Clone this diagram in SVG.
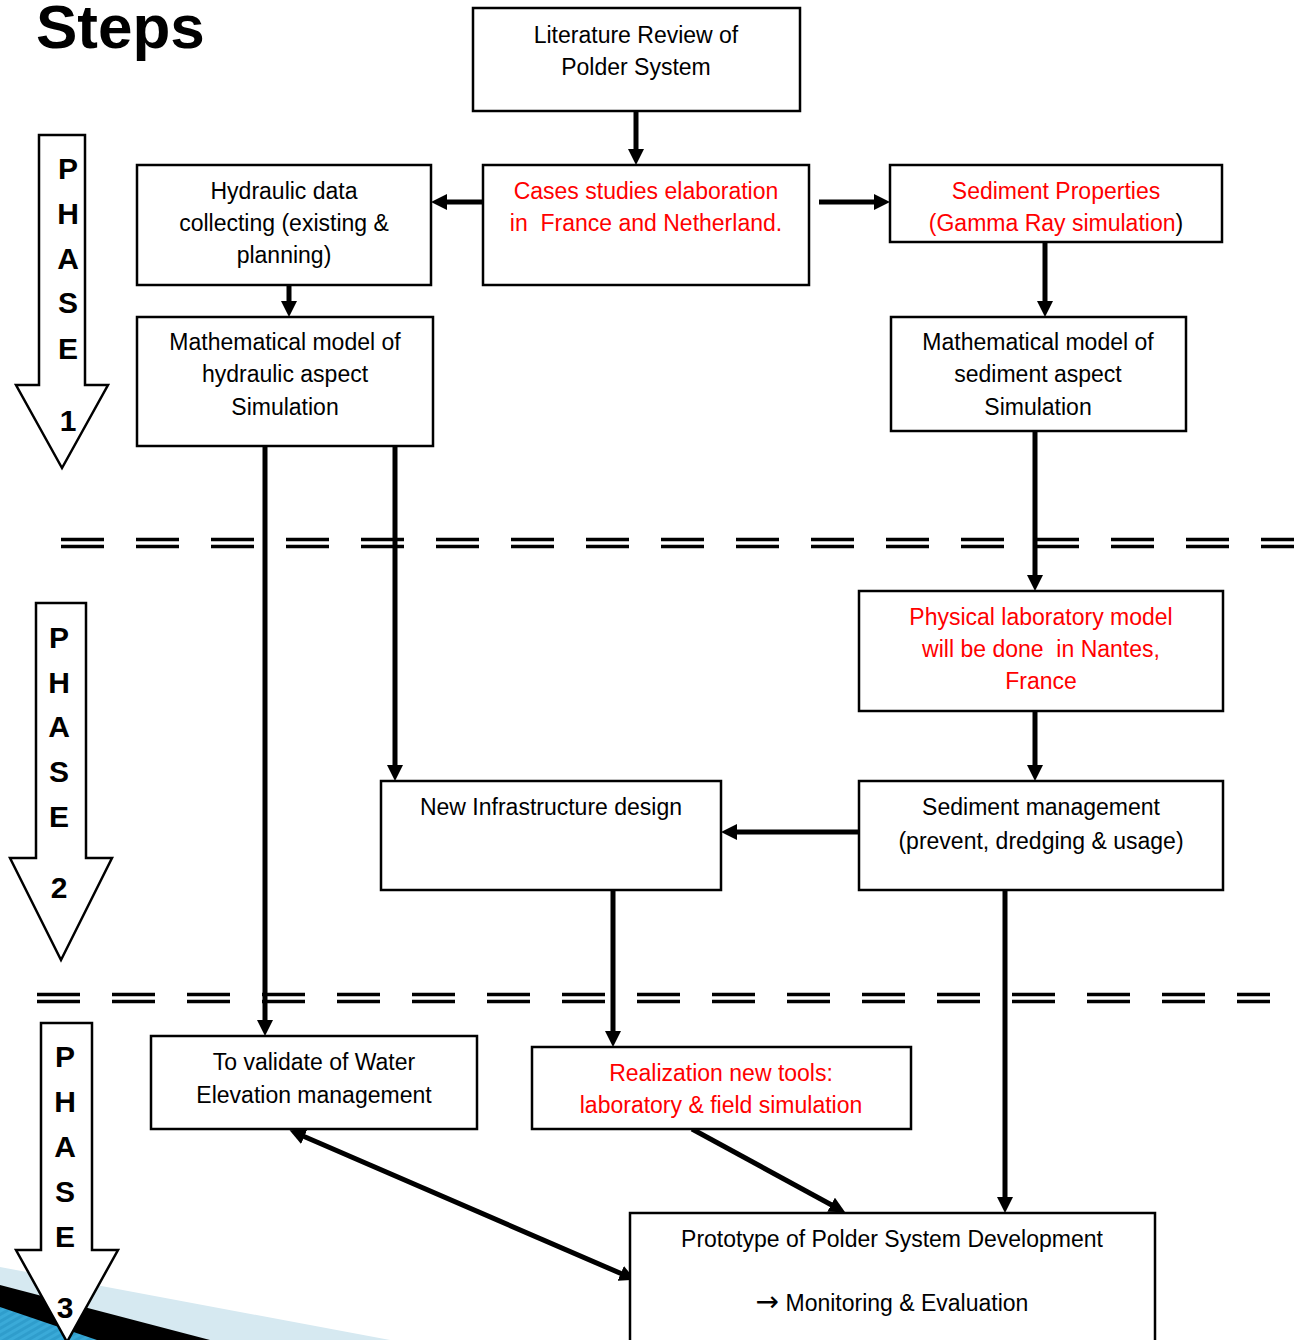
<svg xmlns="http://www.w3.org/2000/svg" width="1294" height="1340" viewBox="0 0 1294 1340">
<style>
  .box { fill: #ffffff; stroke: #000000; stroke-width: 2.5; }
  .t { font-family: "Liberation Sans", Arial, sans-serif; font-size: 23px; fill: #000000; text-anchor: middle; white-space: pre; }
  .red { fill: #ff0000; }
  .ph { font-family: "Liberation Sans", Arial, sans-serif; font-size: 30px; font-weight: bold; fill: #000000; text-anchor: middle; }
  .parrow { fill: #ffffff; stroke: #000000; stroke-width: 2.5; stroke-linejoin: miter; }
  .conn { stroke: #000000; stroke-width: 5; fill: none; }
  .dash { stroke: #000000; stroke-width: 3.5; stroke-dasharray: 43 32; fill: none; }
</style>
<defs>
  <marker id="ah" viewBox="0 0 16 16" markerUnits="userSpaceOnUse" markerWidth="16" markerHeight="16" refX="9" refY="8" orient="auto-start-reverse">
    <path d="M0,0 L16,8 L0,16 z" fill="#000000"/>
  </marker>
  <pattern id="stripes" patternUnits="userSpaceOnUse" width="6" height="6" patternTransform="rotate(60)">
    <rect width="6" height="6" fill="#2f9dcc"/>
    <rect width="3" height="6" fill="#3aaad8"/>
  </pattern>
</defs>

<!-- Decorative corner bands -->
<g id="decor">
  <polygon points="0,1267 390,1340 0,1340" fill="#d6e9f1"/>
  <polygon points="0,1285 210,1340 0,1340" fill="#000000"/>
  <polygon points="0,1307 97,1340 0,1340" fill="url(#stripes)"/>
</g>

<!-- Title -->
<text x="36" y="48" font-family="'Liberation Sans', Arial, sans-serif" font-size="62" font-weight="bold" fill="#000000">Steps</text>

<!-- Phase separators -->
<g id="separators">
  <line class="dash" x1="61" y1="539.5" x2="1294" y2="539.5"/>
  <line class="dash" x1="61" y1="546.5" x2="1294" y2="546.5"/>
  <line class="dash" x1="37" y1="994.5" x2="1270" y2="994.5"/>
  <line class="dash" x1="37" y1="1001.5" x2="1270" y2="1001.5"/>
</g>

<!-- Phase arrows -->
<g id="phase1">
  <polygon class="parrow" points="39,135 85,135 85,385 108,385 62,468 16,385 39,385"/>
  <text class="ph" x="68" y="179">P</text>
  <text class="ph" x="68" y="224">H</text>
  <text class="ph" x="68" y="269">A</text>
  <text class="ph" x="68" y="313">S</text>
  <text class="ph" x="68" y="359">E</text>
  <text class="ph" x="68" y="431">1</text>
</g>
<g id="phase2">
  <polygon class="parrow" points="36,603 86,603 86,858 112,858 61,960 10,858 36,858"/>
  <text class="ph" x="59" y="648">P</text>
  <text class="ph" x="59" y="693">H</text>
  <text class="ph" x="59" y="737">A</text>
  <text class="ph" x="59" y="782">S</text>
  <text class="ph" x="59" y="827">E</text>
  <text class="ph" x="59" y="898">2</text>
</g>
<g id="phase3">
  <polygon class="parrow" points="41,1023 92,1023 92,1250 118,1250 67,1342 16,1250 41,1250"/>
  <text class="ph" x="65" y="1067">P</text>
  <text class="ph" x="65" y="1112">H</text>
  <text class="ph" x="65" y="1157">A</text>
  <text class="ph" x="65" y="1202">S</text>
  <text class="ph" x="65" y="1247">E</text>
  <text class="ph" x="65" y="1318">3</text>
</g>

<!-- Connectors -->
<g id="connectors">
  <line class="conn" x1="636" y1="111" x2="636" y2="158" marker-end="url(#ah)"/>
  <line class="conn" x1="483" y1="202" x2="438" y2="202" marker-end="url(#ah)"/>
  <line class="conn" x1="819" y1="202" x2="883" y2="202" marker-end="url(#ah)"/>
  <line class="conn" x1="289" y1="285" x2="289" y2="310" marker-end="url(#ah)"/>
  <line class="conn" x1="1045" y1="242" x2="1045" y2="310" marker-end="url(#ah)"/>
  <line class="conn" x1="265" y1="446" x2="265" y2="1029" marker-end="url(#ah)"/>
  <line class="conn" x1="395" y1="446" x2="395" y2="774" marker-end="url(#ah)"/>
  <line class="conn" x1="1035" y1="431" x2="1035" y2="584" marker-end="url(#ah)"/>
  <line class="conn" x1="1035" y1="711" x2="1035" y2="774" marker-end="url(#ah)"/>
  <line class="conn" x1="859" y1="832" x2="728" y2="832" marker-end="url(#ah)"/>
  <line class="conn" x1="613" y1="890" x2="613" y2="1040" marker-end="url(#ah)"/>
  <line class="conn" x1="1005" y1="890" x2="1005" y2="1206" marker-end="url(#ah)"/>
  <line class="conn" x1="692" y1="1129" x2="839" y2="1209" marker-end="url(#ah)"/>
  <line class="conn" x1="296" y1="1133" x2="629" y2="1277" marker-start="url(#ah)" marker-end="url(#ah)"/>
</g>

<!-- Nodes -->
<g id="n-literature">
  <rect class="box" x="473" y="8" width="327" height="103"/>
  <text class="t" x="636" y="43">Literature Review of</text>
  <text class="t" x="636" y="75">Polder System</text>
</g>
<g id="n-hydraulic-data">
  <rect class="box" x="137" y="165" width="294" height="120"/>
  <text class="t" x="284" y="199">Hydraulic data</text>
  <text class="t" x="284" y="231">collecting (existing &amp;</text>
  <text class="t" x="284" y="263">planning)</text>
</g>
<g id="n-cases">
  <rect class="box" x="483" y="165" width="326" height="120"/>
  <text class="t red" x="646" y="199">Cases studies elaboration</text>
  <text class="t red" x="646" y="231">in  France and Netherland.</text>
</g>
<g id="n-sediment-props">
  <rect class="box" x="890" y="165" width="332" height="77"/>
  <text class="t red" x="1056" y="199">Sediment Properties</text>
  <text class="t red" x="1056" y="231">(Gamma Ray simulation<tspan fill="#000000">)</tspan></text>
</g>
<g id="n-math-hydraulic">
  <rect class="box" x="137" y="317" width="296" height="129"/>
  <text class="t" x="285" y="350">Mathematical model of</text>
  <text class="t" x="285" y="382">hydraulic aspect</text>
  <text class="t" x="285" y="415">Simulation</text>
</g>
<g id="n-math-sediment">
  <rect class="box" x="891" y="317" width="295" height="114"/>
  <text class="t" x="1038" y="350">Mathematical model of</text>
  <text class="t" x="1038" y="382">sediment aspect</text>
  <text class="t" x="1038" y="415">Simulation</text>
</g>
<g id="n-physical">
  <rect class="box" x="859" y="591" width="364" height="120"/>
  <text class="t red" x="1041" y="625">Physical laboratory model</text>
  <text class="t red" x="1041" y="657">will be done  in Nantes,</text>
  <text class="t red" x="1041" y="689">France</text>
</g>
<g id="n-new-infra">
  <rect class="box" x="381" y="781" width="340" height="109"/>
  <text class="t" x="551" y="815">New Infrastructure design</text>
</g>
<g id="n-sediment-mgmt">
  <rect class="box" x="859" y="781" width="364" height="109"/>
  <text class="t" x="1041" y="815">Sediment management</text>
  <text class="t" x="1041" y="849">(prevent, dredging &amp; usage)</text>
</g>
<g id="n-validate">
  <rect class="box" x="151" y="1036" width="326" height="93"/>
  <text class="t" x="314" y="1070">To validate of Water</text>
  <text class="t" x="314" y="1103">Elevation management</text>
</g>
<g id="n-realization">
  <rect class="box" x="532" y="1047" width="379" height="82"/>
  <text class="t red" x="721" y="1081">Realization new tools:</text>
  <text class="t red" x="721" y="1113">laboratory &amp; field simulation</text>
</g>
<g id="n-prototype">
  <rect class="box" x="630" y="1213" width="525" height="140"/>
  <text class="t" x="892" y="1247">Prototype of Polder System Development</text>
  <text class="t" x="892" y="1311"><tspan font-family="'DejaVu Sans', sans-serif" font-size="28">→</tspan> Monitoring &amp; Evaluation</text>
</g>
</svg>
